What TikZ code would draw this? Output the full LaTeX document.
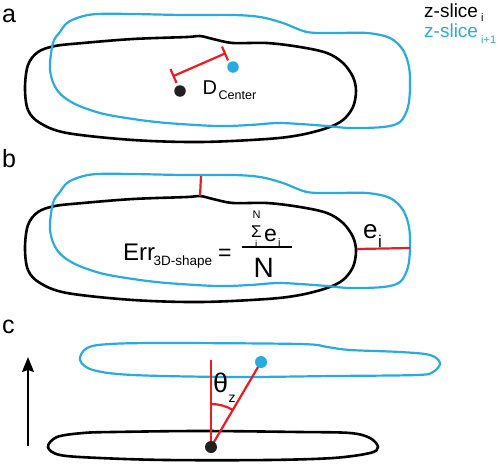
\documentclass[tikz,border=0pt]{standalone}
\usepackage{fontspec}
\setmainfont{Liberation Sans}
\usetikzlibrary{arrows.meta}
\definecolor{sliceblue}{RGB}{41,171,226}
\definecolor{errred}{RGB}{237,28,36}
\definecolor{dotblack}{RGB}{35,31,32}
\newcommand{\fsz}[1]{\fontsize{#1}{#1}\selectfont}
\newcommand{\blackoutline}{plot[smooth cycle, tension=0.55] coordinates {
 (25,88) (28,65) (38,52) (55,46) (83,43) (133,39) (187,37) (200,36) (213,39) (233,43) (267,43) (300,47) (327,53) (343,63) (353,77) (356,91) (353,107) (343,120) (327,128) (300,135) (267,139) (200,142) (133,140) (67,133) (40,123) (28,110)}}
\newcommand{\blueoutline}{plot[smooth cycle, tension=0.55] coordinates {
 (60,32) (67,23) (80,17) (97,14) (133,14) (183,15) (233,15) (260,17) (283,23) (307,32) (333,33) (367,33) (390,38) (403,50) (409,67) (410,87) (408,107) (400,122) (383,127) (350,128) (327,126) (300,124) (277,123) (250,125) (217,126) (167,123) (133,119) (100,113) (73,103) (57,90) (50,70) (53,43)}}
\begin{document}
\begin{tikzpicture}[x=1pt,y=-1pt,
  blackline/.style={draw=black, line width=2.6pt},
  blueline/.style={draw=sliceblue, line width=2.2pt},
  redline/.style={draw=errred, line width=2.2pt},
  dotnode/.style={circle, inner sep=0pt, minimum size=11.5pt},
  lbl/.style={inner sep=0pt, anchor=base west}]
\useasboundingbox (0,0) rectangle (500,463);

% ---------- panel a ----------
\node[lbl] (la) at (2,22) {\fsz{25}a};
\draw[blackline] \blackoutline;
\draw[blueline] \blueoutline;
\coordinate (d1) at (173.5,76);
\coordinate (d2) at (225,53.5);
\coordinate (d1a) at (170.5,69.1);
\coordinate (d1b) at (176.5,82.9);
\coordinate (d2a) at (222,46.6);
\coordinate (d2b) at (228,60.4);
\draw[redline] (d1) -- (d2);
\draw[redline] (d1a) -- (d1b);
\draw[redline] (d2a) -- (d2b);
\node[dotnode, fill=dotblack] (ca) at (180,91) {};
\node[dotnode, fill=sliceblue] (cb) at (233,67) {};
\node[lbl] (dD) at (202.5,94) {\fsz{20}D};
\node[lbl] (dC) at (218.5,99) {\fsz{12.5}Center};
\node[lbl] (z1) at (424,17) {\fsz{19}z-slice};
\node[lbl] (z1s) at (481,21) {\fsz{11}i};
\node[lbl, text=sliceblue] (z2) at (424,37) {\fsz{19}z-slice};
\node[lbl, text=sliceblue] (z2s) at (481,43) {\fsz{11}i+1};

% ---------- panel b ----------
\node[lbl] (lb) at (2,167) {\fsz{25}b};
\begin{scope}[shift={(0,160)}]
\draw[blackline] \blackoutline;
\draw[blueline] \blueoutline;
\end{scope}
\coordinate (e1a) at (201,176);
\coordinate (e1b) at (200,196);
\coordinate (e2a) at (357,249);
\coordinate (e2b) at (410,248);
\draw[redline] (e1a) -- (e1b);
\draw[redline] (e2a) -- (e2b);
\node[lbl] (ei) at (363,238) {\fsz{26}e};
\node[lbl] (eis) at (378,247) {\fsz{17}i};
\node[lbl] (err) at (123,260) {\fsz{24}Err};
\node[lbl] (errs) at (153.5,265) {\fsz{13.5}3D-shape};
\node[lbl] (eq) at (218,260) {\fsz{23}=};
\coordinate (fb1) at (242,247);
\coordinate (fb2) at (292,247);
\draw[line width=1.3pt] (fb1) -- (fb2);
\node[lbl] (sig) at (251,237) {\fsz{17}Σ};
\node[lbl] (sigN) at (252.5,218) {\fsz{11}N};
\node[lbl] (sigi) at (255,247) {\fsz{10}i};
\node[lbl] (se) at (264,241) {\fsz{23}e};
\node[lbl] (sei) at (278,246) {\fsz{11}i};
\node[lbl] (den) at (253.5,277) {\fsz{28}N};

% ---------- panel c ----------
\node[lbl] (lc) at (2,333) {\fsz{25}c};
\draw[blueline] plot[smooth cycle, tension=0.55] coordinates {
 (87,348) (110,344) (167,343) (300,344) (327,347) (350,350) (400,352) (430,355) (440,363) (433,372) (417,375) (333,376) (233,377) (133,375) (93,370) (80,360)};
\draw[blackline] plot[smooth cycle, tension=0.55] coordinates {
 (48,447) (57,437) (83,433) (113,432) (200,431) (300,432) (350,433) (370,438) (378,447) (370,453) (333,458) (267,460) (167,460) (100,458) (60,455)};
\coordinate (ab) at (28,446);
\coordinate (at) at (28,357);
\draw[line width=2pt, -{Stealth[length=15pt, width=12pt, inset=2pt]}] (ab) -- (at);
\coordinate (vt) at (211,360);
\coordinate (dcc) at (211,447);
\coordinate (bcc) at (261,362);
\draw[redline] (vt) -- (dcc);
\draw[redline] (dcc) -- (bcc);
\coordinate (arcA) at (211,404);
\coordinate (arcB) at (233.1,410.1);
\draw[redline] (arcA) .. controls (218.8,404) and (226.4,406.1) .. (arcB);
\node[dotnode, fill=dotblack, minimum size=12pt] (dc) at (dcc) {};
\node[dotnode, fill=sliceblue, minimum size=12pt] (bc) at (bcc) {};
\node[lbl] (th) at (213,392) {\fsz{27}θ};
\node[lbl] (thz) at (228.5,402) {\fsz{14}z};
\end{tikzpicture}
\end{document}
